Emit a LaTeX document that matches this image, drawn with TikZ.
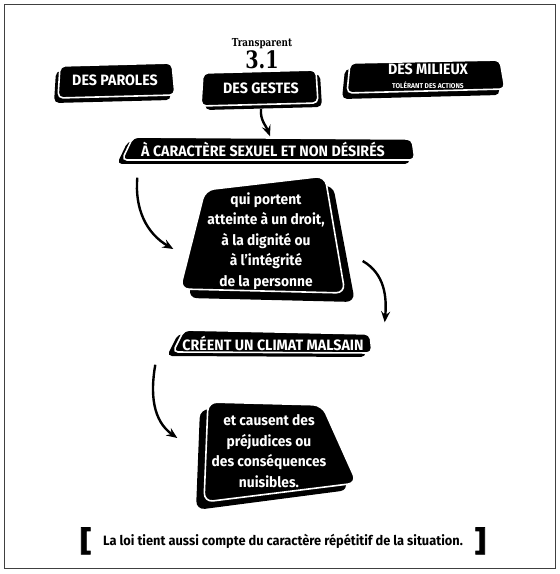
\documentclass[tikz,border=0pt]{standalone}
\usepackage{fontspec}
\usepackage{tikz}
\usetikzlibrary{arrows.meta}
\usetikzlibrary{positioning}

\newfontfamily\cardfont{Fira Sans}[FakeStretch=0.95]
\newfontfamily\slabfont{DejaVu Serif}[FakeStretch=0.8]
\newfontfamily\bracketfont{DejaVu Sans}[FakeBold=2.5]

\tikzset{
  card/.style={fill=black, draw=white, line width=1.6pt, rounded corners=5pt},
  cardshade/.style={fill=black, rounded corners=5pt},
  label/.style={text=white, inner sep=0pt, align=center,
    font=\cardfont\bfseries\fontsize{15}{17}\selectfont},
  para/.style={text=white, inner sep=0pt, align=center,
    font=\cardfont\bfseries\fontsize{14.5}{20.5}\selectfont},
  arr/.style={line width=2.4pt, -{Stealth[length=11pt,width=9pt,inset=4pt]}},
  brk/.style={font=\bracketfont\bfseries\fontsize{30}{30}\selectfont, inner sep=0pt},
}

\begin{document}
\begin{tikzpicture}[x=1pt,y=1pt]
  \useasboundingbox (0,0) rectangle (560,574);
  %frame
  \draw[line width=0.9pt, black!75] (4,6) rectangle (555,570);

  %top row of cards
  \fill[cardshade] (56,503) -- (168,506) -- (171,474) -- (54,471) -- cycle;
  \draw[card] (60,508) -- (172,511) -- (175,479) -- (58,476) -- cycle;
  \fill[cardshade] (207,497) -- (320,500) -- (322,467) -- (205,464) -- cycle;
  \draw[card] (203,501) -- (316,504) -- (318,471) -- (201,468) -- cycle;
  \fill[cardshade] (345,505) -- (495,508) -- (500,479) -- (342,475) -- cycle;
  \draw[card] (350,511) -- (500,514) -- (505,485) -- (347,481) -- cycle;

  %bands and big cards
  \fill[cardshade] (128,433) -- (407,431) -- (410,410) -- (117,410) -- cycle;
  \draw[card] (133,437) -- (412,435) -- (415,414) -- (122,414) -- cycle;
  \fill[cardshade, rounded corners=9pt] (213,375) -- (333,389) -- (355,272) -- (188,276) -- cycle;
  \draw[card, rounded corners=9pt] (205,384) -- (325,398) -- (345,281) -- (180,285) -- cycle;
  \fill[cardshade] (178,240) -- (364,236) -- (366,217) -- (167,218) -- cycle;
  \draw[card] (184,244) -- (370,240) -- (372,221) -- (173,222) -- cycle;
  \fill[cardshade, rounded corners=9pt] (200,165) -- (314,162) -- (349,84) -- (196,64) -- cycle;
  \draw[card, rounded corners=9pt] (208,172) -- (322,169) -- (357,91) -- (204,72) -- cycle;

  %title
  \node (title) at (262,530) {\slabfont\bfseries\fontsize{11}{12}\selectfont Transparent};
  \node (num) at (262,514) {\slabfont\bfseries\fontsize{24}{24}\selectfont 3.1};

  %texts
  \node[label, minimum width=117pt, minimum height=35pt] (paroles) at (115,494) {DES PAROLES};
  \node[label, minimum width=117pt, minimum height=36pt] (gestes) at (261,486) {DES GESTES};
  \node[label, minimum width=158pt, minimum height=33pt] (milieux) at (428,498)
    {DES MILIEUX\\[-3pt]{\fontsize{7}{8}\selectfont TOLÉRANT DES ACTIONS}};
  \node[label, minimum width=293pt, minimum height=23pt] (carac) at (263,425) {À CARACTÈRE SEXUEL ET NON DÉSIRÉS};
  \node[para, minimum width=165pt, minimum height=117pt] (qui) at (266,333)
    {qui portent\\atteinte à un droit,\\à la dignité ou\\à l’intégrité\\de la personne};
  \node[label, minimum width=199pt, minimum height=23pt] (creent) at (273,231) {CRÉENT UN CLIMAT MALSAIN};
  \node[para, minimum width=155pt, minimum height=98pt] (causent) at (269,123)
    {et causent des\\préjudices ou\\des conséquences\\nuisibles.};

  %arrows
  \draw[arr] ([yshift=-3pt]gestes.south) to[out=-95,in=110] ([xshift=7pt,yshift=1pt]carac.north);
  \draw[arr] ([xshift=21pt,yshift=-17pt]carac.south west) to[out=-95,in=150] ([xshift=-10pt,yshift=-8pt]qui.west);
  \draw[arr] ([xshift=14pt,yshift=-20pt]qui.east) to[out=-30,in=85] ([xshift=12pt,yshift=9pt]creent.north east);
  \draw[arr] ([xshift=-18pt,yshift=-10pt]creent.south west) to[out=-100,in=145] ([xshift=-14pt,yshift=13pt]causent.west);

  %bottom note
  \node[font=\cardfont\bfseries\fontsize{13.5}{15}\selectfont] (law) at (283,33)
    {La loi tient aussi compte du caractère répétitif de la situation.};
  \node[brk] (lb) [left=7pt of law] {[};
  \node[brk] (rb) [right=7pt of law] {]};
\end{tikzpicture}
\end{document}
